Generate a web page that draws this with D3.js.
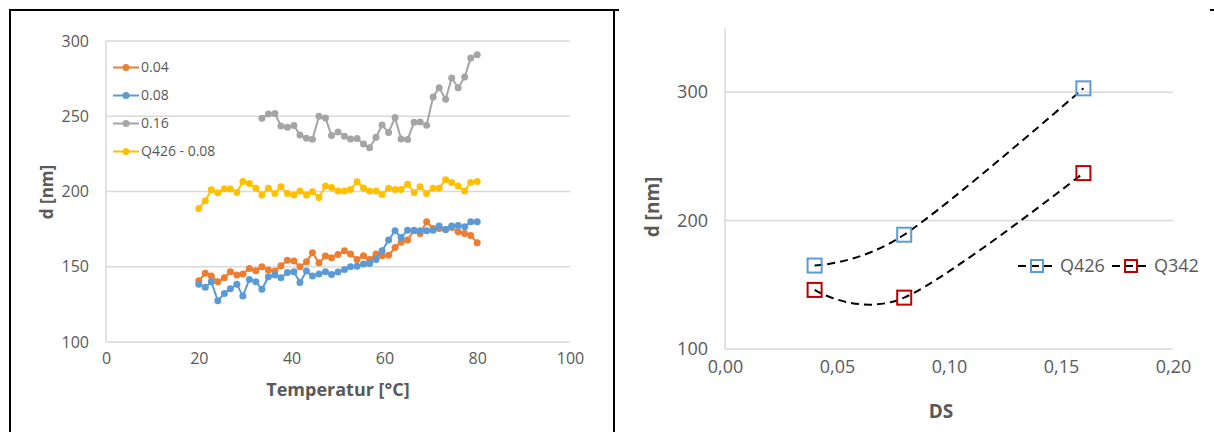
<!DOCTYPE html>
<html>
<head>
<meta charset="utf-8">
<script src="https://cdn.jsdelivr.net/npm/d3@7"></script>
<style>
  body { margin: 0; background: #fff; }
  svg { display: block; font-family: 'Open Sans', 'Noto Sans', sans-serif; }
</style>
</head>
<body>
<svg id="chart" width="1214" height="432"></svg>
<script>
// left chart: particle size vs temperature
const temps = [20.0, 21.4, 22.7, 24.1, 25.5, 26.8, 28.2, 29.5, 30.9, 32.3, 33.6, 35.0, 36.4,
  37.7, 39.1, 40.5, 41.8, 43.2, 44.5, 45.9, 47.3, 48.6, 50.0, 51.4, 52.7, 54.1, 55.5, 56.8,
  58.2, 59.5, 60.9, 62.3, 63.6, 65.0, 66.4, 67.7, 69.1, 70.5, 71.8, 73.2, 74.5, 75.9, 77.3,
  78.6, 80.0];
const ds04 = [140.7, 145.6, 143.8, 140.0, 142.7, 146.7, 144.5, 145.1, 148.9, 147.3, 150.0,
  147.8, 147.1, 150.7, 154.4, 153.8, 150.0, 153.3, 159.3, 152.7, 157.1, 156.0, 158.2, 160.6,
  158.4, 154.9, 157.3, 154.9, 158.4, 157.3, 157.7, 162.8, 166.2, 167.7, 174.3, 172.1, 179.9,
  175.4, 175.4, 174.8, 176.1, 173.2, 172.1, 170.8, 165.9];
const ds08 = [138.3, 136.3, 140.0, 127.4, 132.3, 135.4, 138.3, 130.5, 141.6, 140.0, 135.0,
  143.4, 144.5, 142.7, 146.2, 146.7, 139.6, 147.1, 143.8, 145.1, 146.7, 144.9, 146.5, 148.2,
  150.0, 150.4, 151.8, 152.2, 154.9, 160.6, 167.7, 173.9, 169.5, 174.3, 173.9, 173.9, 173.9,
  174.3, 177.0, 174.8, 177.0, 177.4, 176.5, 179.9, 179.9];
// 0.16 starts at temps[10]
const ds16 = [248.7, 251.5, 251.8, 243.6, 242.7, 243.8, 237.6, 235.4, 234.7, 250.0, 248.9,
  237.2, 239.6, 236.7, 234.9, 235.2, 231.6, 229.0, 236.1, 244.2, 239.2, 249.1, 234.9, 234.5,
  246.0, 246.2, 244.0, 262.8, 269.0, 261.3, 275.4, 269.0, 276.1, 288.7, 290.9];
const q426ds08 = [188.7, 193.8, 201.1, 199.1, 201.8, 201.6, 199.3, 206.7, 205.3, 202.2, 197.6,
  202.2, 198.7, 203.1, 198.7, 197.6, 200.4, 197.6, 199.8, 196.0, 203.6, 202.7, 200.4, 200.4,
  201.3, 206.4, 202.4, 200.4, 200.4, 198.0, 202.2, 201.3, 201.3, 204.9, 199.3, 203.1, 198.7,
  202.2, 202.2, 207.8, 206.0, 203.6, 200.4, 206.0, 206.7];
const leftNames = ['0.04', '0.08', '0.16', 'Q426 - 0.08'];
const leftColors = ['#ED7D31', '#5B9BD5', '#A5A5A5', '#FFC000'];
const leftXTicks = [0, 20, 40, 60, 80, 100];
const leftYTicks = [100, 150, 200, 250, 300];

// right chart: size vs degree of substitution
const dsValues = [0.04, 0.08, 0.16];
const q426 = [165, 189, 303];
const q342 = [146, 140, 237];
const rightNames = ['Q426', 'Q342'];
const rightColors = ['#5B9BD5', '#C00000'];
const rightXTicks = [0, 0.05, 0.1, 0.15, 0.2];
const rightYTicks = [100, 200, 300];

const svg = d3.select('#chart');
const textCol = '#595959';
const gridCol = '#D9D9D9';

svg.append('rect').attr('width', 1214).attr('height', 432).attr('fill', '#fff');

function drawGrid(x, y, yTicks) {
  const g = svg.append('g');
  g.selectAll('line.grid')
    .data(yTicks)
    .enter()
    .append('line')
    .attr('x1', x.range()[0])
    .attr('x2', x.range()[1])
    .attr('y1', (d) => y(d))
    .attr('y2', (d) => y(d))
    .attr('stroke', gridCol)
    .attr('stroke-width', 1.5);
  g.append('line')
    .attr('x1', x.range()[0])
    .attr('x2', x.range()[0])
    .attr('y1', y.range()[0])
    .attr('y2', y.range()[1])
    .attr('stroke', gridCol)
    .attr('stroke-width', 1.5);
}

function drawAxes(x, y, xTicks, yTicks, fmt, size) {
  const ax = svg.append('g')
    .attr('transform', `translate(0, ${y.range()[0] + 8})`)
    .call(d3.axisBottom(x).tickValues(xTicks).tickSize(0).tickFormat(fmt));
  const ay = svg.append('g')
    .attr('transform', `translate(${x.range()[0] - 14}, 0)`)
    .call(d3.axisLeft(y).tickValues(yTicks).tickSize(0));
  [ax, ay].forEach((a) => {
    a.select('.domain').remove();
    a.selectAll('text')
      .attr('fill', textCol)
      .attr('font-size', size)
      .attr('font-family', "'Open Sans', 'Noto Sans', sans-serif");
  });
}

// ---------- left chart ----------
const xL = d3.scaleLinear().domain([0, 100]).range([106, 570]);
const yL = d3.scaleLinear().domain([100, 300]).range([342, 41]);

drawGrid(xL, yL, leftYTicks);
drawAxes(xL, yL, leftXTicks, leftYTicks, d3.format('d'), 16);

const leftSeries = [
  temps.map((t, i) => [t, ds04[i]]),
  temps.map((t, i) => [t, ds08[i]]),
  ds16.map((v, i) => [temps[i + 10], v]),
  temps.map((t, i) => [t, q426ds08[i]]),
];
const lineL = d3.line().x((d) => xL(d[0])).y((d) => yL(d[1]));

leftSeries.forEach((pts, k) => {
  const g = svg.append('g');
  g.append('path')
    .attr('d', lineL(pts))
    .attr('fill', 'none')
    .attr('stroke', leftColors[k])
    .attr('stroke-width', 2);
  g.selectAll('circle')
    .data(pts)
    .enter()
    .append('circle')
    .attr('cx', (d) => xL(d[0]))
    .attr('cy', (d) => yL(d[1]))
    .attr('r', 3.5)
    .attr('fill', leftColors[k]);
});

// left legend
const legL = svg.append('g');
leftNames.forEach((name, i) => {
  const ly = 67.5 + i * 28;
  legL.append('line')
    .attr('x1', 113).attr('x2', 139)
    .attr('y1', ly).attr('y2', ly)
    .attr('stroke', leftColors[i])
    .attr('stroke-width', 2);
  legL.append('circle')
    .attr('cx', 126).attr('cy', ly).attr('r', 3.5)
    .attr('fill', leftColors[i]);
  legL.append('text')
    .attr('x', 141).attr('y', ly)
    .attr('dy', '0.35em')
    .attr('fill', textCol)
    .attr('font-size', 14)
    .text(name);
});

svg.append('text')
  .attr('transform', `translate(${47}, ${192}) rotate(-90)`)
  .attr('text-anchor', 'middle')
  .attr('dy', '0.35em')
  .attr('fill', textCol)
  .attr('font-size', 17)
  .attr('font-weight', 700)
  .text('d [nm]');

svg.append('text')
  .attr('x', 338).attr('y', 396)
  .attr('text-anchor', 'middle')
  .attr('fill', textCol)
  .attr('font-size', 18)
  .attr('font-weight', 700)
  .text('Temperatur [°C]');

// ---------- right chart ----------
const xR = d3.scaleLinear().domain([0, 0.2]).range([725, 1173]);
const yR = d3.scaleLinear().domain([100, 350]).range([349, 28]);
const commaFmt = d3.formatLocale({ decimal: ',', thousands: '.', grouping: [3], currency: ['', ''] }).format('.2f');

drawGrid(xR, yR, rightYTicks);
drawAxes(xR, yR, rightXTicks, rightYTicks, commaFmt, 18);

const rightSeries = [
  dsValues.map((v, i) => [v, q426[i]]),
  dsValues.map((v, i) => [v, q342[i]]),
];
const lineR = d3.line().curve(d3.curveCardinal).x((d) => xR(d[0])).y((d) => yR(d[1]));

rightSeries.forEach((pts, k) => {
  const g = svg.append('g');
  g.append('path')
    .attr('d', lineR(pts))
    .attr('fill', 'none')
    .attr('stroke', '#000')
    .attr('stroke-width', 2)
    .attr('stroke-dasharray', '8,5');
  g.selectAll('rect')
    .data(pts)
    .enter()
    .append('rect')
    .attr('x', (d) => xR(d[0]) - 7)
    .attr('y', (d) => yR(d[1]) - 7)
    .attr('width', 14)
    .attr('height', 14)
    .attr('fill', 'none')
    .attr('stroke', rightColors[k])
    .attr('stroke-width', 2);
});

// right legend
const legR = svg.append('g');
rightNames.forEach((name, i) => {
  const lx = 1018 + i * 94;
  const ly = 266;
  legR.append('line')
    .attr('x1', lx).attr('x2', lx + 38)
    .attr('y1', ly).attr('y2', ly)
    .attr('stroke', '#000')
    .attr('stroke-width', 2)
    .attr('stroke-dasharray', '8,5');
  legR.append('rect')
    .attr('x', lx + 13).attr('y', ly - 6)
    .attr('width', 12).attr('height', 12)
    .attr('fill', 'none')
    .attr('stroke', rightColors[i])
    .attr('stroke-width', 2);
  legR.append('text')
    .attr('x', lx + 42).attr('y', ly)
    .attr('dy', '0.35em')
    .attr('fill', textCol)
    .attr('font-size', 18)
    .text(name);
});

svg.append('text')
  .attr('transform', `translate(${652}, ${207}) rotate(-90)`)
  .attr('text-anchor', 'middle')
  .attr('dy', '0.35em')
  .attr('fill', textCol)
  .attr('font-size', 19)
  .attr('font-weight', 700)
  .text('d [nm]');

svg.append('text')
  .attr('x', 941).attr('y', 418)
  .attr('text-anchor', 'middle')
  .attr('fill', textCol)
  .attr('font-size', 19)
  .attr('font-weight', 700)
  .text('DS');

// ---------- frame lines ----------
svg.append('path')
  .attr('d', 'M10,432 V10 H614 V432')
  .attr('fill', 'none')
  .attr('stroke', '#000')
  .attr('stroke-width', 2);
svg.append('path')
  .attr('d', 'M614,10 H619 M1210,10 H1214')
  .attr('fill', 'none')
  .attr('stroke', '#000')
  .attr('stroke-width', 2);
</script>
</body>
</html>
